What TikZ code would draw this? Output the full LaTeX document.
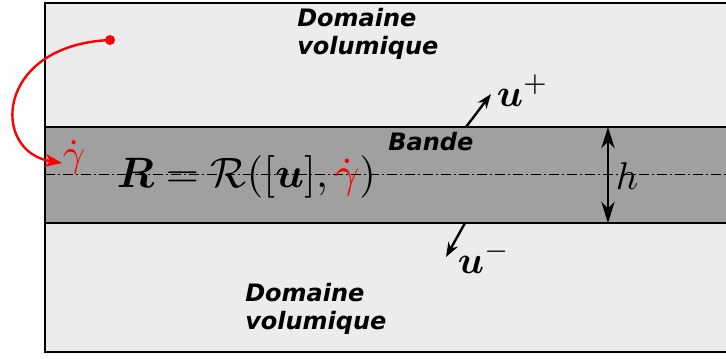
\documentclass[tikz,border=0pt]{standalone}
\usepackage{amsmath,bm}
\usepackage{fontspec}
\newfontfamily\domfont{DejaVu Sans}
\usetikzlibrary{arrows.meta}
\definecolor{volgrey}{RGB}{236,236,236}
\definecolor{bandgrey}{RGB}{160,160,160}

\begin{document}
\begin{tikzpicture}[x=0.75pt,y=-0.75pt,
    domlabel/.style={font=\domfont\bfseries\itshape\fontsize{18}{21}\selectfont,align=left,inner sep=0pt},
    bigmath/.style={scale=2.9,inner sep=0pt}]
  \useasboundingbox (0,0) rectangle (726,358);
  % Volume and band
  \draw[fill=volgrey,line width=2pt] (45,3) rectangle (740,352);
  \draw[fill=bandgrey,line width=2pt] (45,127) rectangle (740,223);
  % mid line of the band
  \draw[line width=0.7pt,dash pattern=on 7.5pt off 2.5pt on 1pt off 2.5pt] (45,174) -- (740,174);
  % Labels
  \node[domlabel,anchor=north west] (voltop) at (297,8) {Domaine\\volumique};
  \node[domlabel,anchor=north west] (volbot) at (245,283) {Domaine\\volumique};
  \node[domlabel,anchor=north west] (bande) at (388,132) {Bande};
  \node[bigmath,scale=1.1,anchor=base west] (loi) at (116,187)
    {$\bm{R}=\mathcal{R}([\bm{u}],\textcolor{red}{\dot{\gamma}})$};
  \node[bigmath,text=red,anchor=base west] (gdot) at (62,166) {$\dot{\gamma}$};
  % red transfer from the volume
  \coordinate (src) at (110,40);
  \coordinate (dst) at (62,163);
  \fill[red] (src) circle (5);
  \draw[red,line width=1.8pt,-{Stealth[length=13pt,width=10pt]}]
    (src) .. controls (-5,45) and (-10,152) .. (dst);
  % displacements
  \coordinate (up0) at (466,127);
  \coordinate (up1) at (491,94);
  \coordinate (um0) at (465,223);
  \coordinate (um1) at (446,257);
  \draw[line width=1.8pt,-{Stealth[length=11pt,width=8pt]}] (up0) -- (up1);
  \draw[line width=1.8pt,-{Stealth[length=11pt,width=8pt]}] (um0) -- (um1);
  \node[bigmath,anchor=base west] (uplus) at (496,106) {$\bm{u}^+$};
  \node[bigmath,anchor=base west] (uminus) at (457,273) {$\bm{u}^-$};
  % band thickness
  \coordinate (htop) at (608,127);
  \coordinate (hbot) at (608,223);
  \draw[line width=1.8pt,{Stealth[length=16pt,width=10pt]}-{Stealth[length=16pt,width=10pt]}] (htop) -- (hbot);
  \node[bigmath,anchor=base west] (hlab) at (615,189) {$h$};
\end{tikzpicture}
\end{document}
